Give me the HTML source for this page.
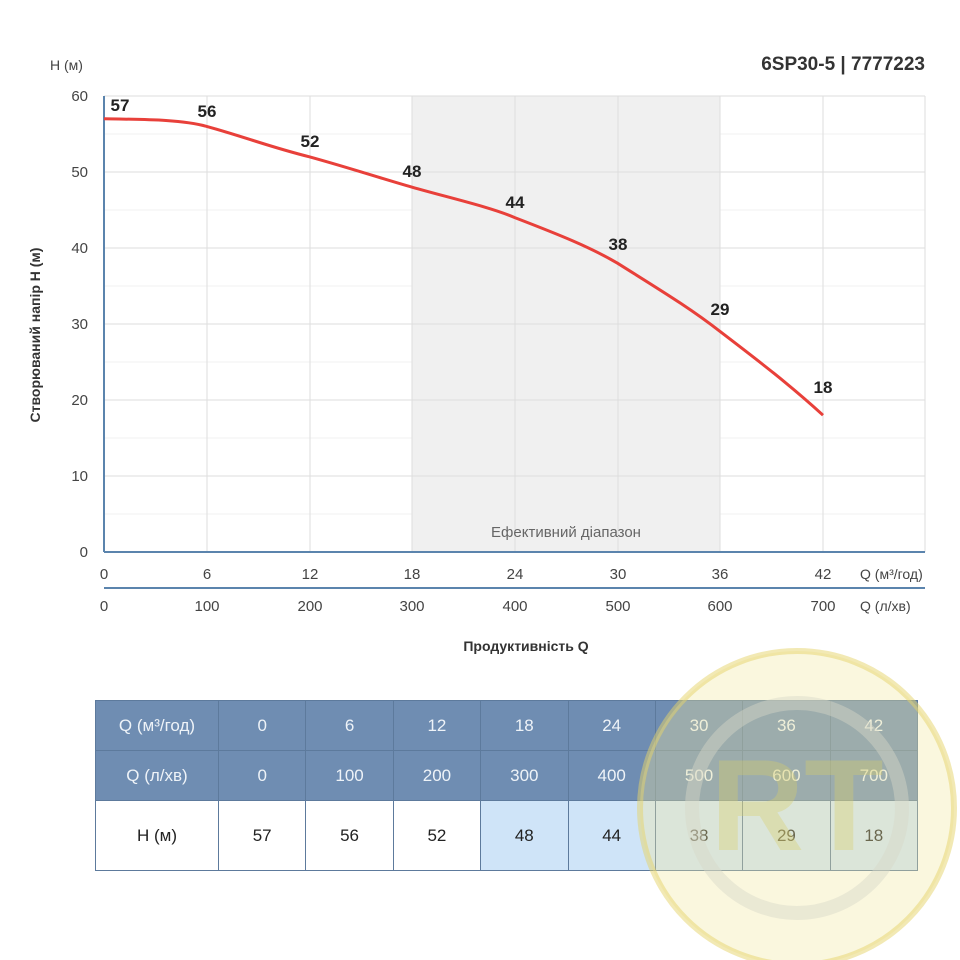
<!DOCTYPE html>
<html><head><meta charset="utf-8"><style>
body{margin:0;background:#fff;width:960px;height:960px;overflow:hidden;font-family:"Liberation Sans",sans-serif;position:relative}
table{position:absolute;left:95px;top:700px;border-collapse:collapse;width:823px;table-layout:fixed}
td{border:1px solid #5d7a9c;text-align:center;font-size:17px;color:#222;padding:0}
tr.h td{background:#6f8db2;color:#eef3f8;height:49px}
tr.v td{height:69px;background:#fff}
td.b{background:#cfe4f8 !important}
</style></head><body>
<svg width="960" height="960" style="position:absolute;left:0;top:0" font-family="Liberation Sans, sans-serif">
<rect x="412" y="96" width="308" height="456" fill="#f0f0f0"/>
<g stroke="#f0f0f0" stroke-width="1">
<line x1="104" x2="925" y1="134" y2="134"/><line x1="104" x2="925" y1="210" y2="210"/><line x1="104" x2="925" y1="286" y2="286"/><line x1="104" x2="925" y1="362" y2="362"/><line x1="104" x2="925" y1="438" y2="438"/><line x1="104" x2="925" y1="514" y2="514"/>
</g>
<g stroke="#dedede" stroke-width="1">
<line x1="104" x2="925" y1="96" y2="96"/><line x1="104" x2="925" y1="172" y2="172"/><line x1="104" x2="925" y1="248" y2="248"/><line x1="104" x2="925" y1="324" y2="324"/><line x1="104" x2="925" y1="400" y2="400"/><line x1="104" x2="925" y1="476" y2="476"/>
<line x1="207" x2="207" y1="96" y2="552"/><line x1="310" x2="310" y1="96" y2="552"/><line x1="412" x2="412" y1="96" y2="552"/><line x1="515" x2="515" y1="96" y2="552"/><line x1="618" x2="618" y1="96" y2="552"/><line x1="720" x2="720" y1="96" y2="552"/><line x1="823" x2="823" y1="96" y2="552"/><line x1="925" x2="925" y1="96" y2="552"/>
</g>
<line x1="104" x2="104" y1="96" y2="552" stroke="#5b84ad" stroke-width="2"/>
<line x1="104" x2="925" y1="552" y2="552" stroke="#5b84ad" stroke-width="2"/>
<line x1="104" x2="925" y1="588" y2="588" stroke="#5b84ad" stroke-width="2"/>
<path d="M104,118.8 C140,119.5 180,119 206.7,126.4 C245,137 270,147 309.4,156.8 C350,168 380,178 412.1,187.2 C450,198 490,207 514.8,217.6 C560,235 590,247 617.5,263.2 C660,290 690,308 720.2,331.6 C760,362 790,385 823,415.2" fill="none" stroke="#e8403a" stroke-width="3"/>
<g font-size="15" fill="#444" text-anchor="end">
<text x="88" y="101">60</text><text x="88" y="177">50</text><text x="88" y="253">40</text><text x="88" y="329">30</text><text x="88" y="405">20</text><text x="88" y="481">10</text><text x="88" y="557">0</text>
</g>
<text x="50" y="70" font-size="14" fill="#444">H (м)</text>
<text x="925" y="70" font-size="19" font-weight="bold" fill="#333" text-anchor="end">6SP30-5 | 7777223</text>
<text transform="translate(40,335) rotate(-90)" font-size="14" font-weight="bold" fill="#333" text-anchor="middle">Створюваний напір H (м)</text>
<g font-size="15" fill="#444" text-anchor="middle">
<text x="104" y="579">0</text><text x="207" y="579">6</text><text x="310" y="579">12</text><text x="412" y="579">18</text><text x="515" y="579">24</text><text x="618" y="579">30</text><text x="720" y="579">36</text><text x="823" y="579">42</text>
<text x="104" y="611">0</text><text x="207" y="611">100</text><text x="310" y="611">200</text><text x="412" y="611">300</text><text x="515" y="611">400</text><text x="618" y="611">500</text><text x="720" y="611">600</text><text x="823" y="611">700</text>
</g>
<text x="860" y="579" font-size="14" fill="#444">Q (м³/год)</text>
<text x="860" y="611" font-size="14" fill="#444">Q (л/хв)</text>
<text x="526" y="651" font-size="14" font-weight="bold" fill="#333" text-anchor="middle">Продуктивність Q</text>
<text x="566" y="537" font-size="15" fill="#666" text-anchor="middle">Ефективний діапазон</text>
<g font-size="17" font-weight="bold" fill="#222" text-anchor="middle">
<text x="120" y="111">57</text><text x="207" y="117">56</text><text x="310" y="147">52</text><text x="412" y="177">48</text><text x="515" y="208">44</text><text x="618" y="250">38</text><text x="720" y="315">29</text><text x="823" y="393">18</text>
</g>
</svg>
<table>
<colgroup><col style="width:123px"><col><col><col><col><col><col><col><col></colgroup>
<tr class="h"><td>Q (м³/год)</td><td>0</td><td>6</td><td>12</td><td>18</td><td>24</td><td>30</td><td>36</td><td>42</td></tr>
<tr class="h"><td>Q (л/хв)</td><td>0</td><td>100</td><td>200</td><td>300</td><td>400</td><td>500</td><td>600</td><td>700</td></tr>
<tr class="v"><td>H (м)</td><td>57</td><td>56</td><td>52</td><td class="b">48</td><td class="b">44</td><td class="b">38</td><td class="b">29</td><td class="b">18</td></tr>
</table>
<svg width="960" height="960" style="position:absolute;left:0;top:0">
<circle cx="797" cy="808" r="157" fill="#f2e9a0" opacity="0.35"/>
<circle cx="797" cy="808" r="157" fill="none" stroke="#e6d36a" stroke-width="6" opacity="0.5"/>
<circle cx="797" cy="808" r="105" fill="none" stroke="#d8d8c8" stroke-width="14" opacity="0.45"/>
<text x="797" y="850" font-family="Liberation Sans, sans-serif" font-weight="bold" font-size="130" fill="#d9cf6a" opacity="0.35" text-anchor="middle">RT</text>
</svg>
</body></html>
